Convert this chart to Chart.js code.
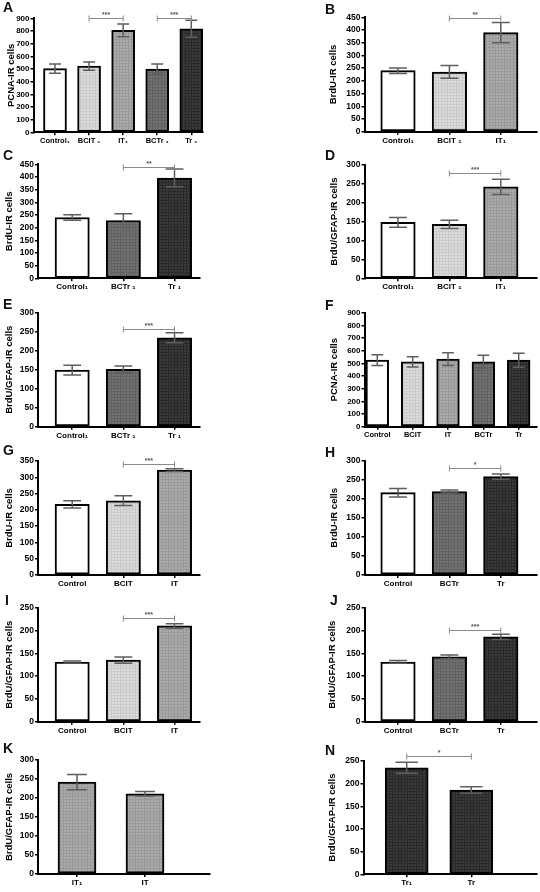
<!DOCTYPE html>
<html><head><meta charset="utf-8">
<script src="https://cdn.jsdelivr.net/npm/chart.js@4.4.0/dist/chart.umd.min.js"></script>
<style>
html,body{margin:0;padding:0;background:#fff;}
body{width:540px;height:892px;position:relative;overflow:hidden;font-family:"Liberation Sans",Arial,sans-serif;}
canvas{position:absolute;}
.letter{position:absolute;font:bold 14px "Liberation Sans",Arial,sans-serif;color:#111;line-height:14px;}
</style></head><body>
<script>
// ---------- DATA ----------
const catsA = ['Control₁','BCIT ₁','IT₁','BCTr ₁','Tr ₁'];
const valsA = [503, 522, 805, 500, 817];
const errsA = [37, 33, 50, 40, 67];
const sigA  = [{from:1,to:2,y:900,t:'***'},{from:3,to:4,y:900,t:'***'}];

const catsB = ['Control₁','BCIT ₁','IT₁'];
const valsB = [240, 235, 390];
const errsB = [11, 25, 40];
const sigB  = [{from:1,to:2,y:446,t:'**'}];

const catsC = ['Control₁','BCTr ₁','Tr ₁'];
const valsC = [240, 228, 396];
const errsC = [11, 27, 35];
const sigC  = [{from:1,to:2,y:441,t:'**'}];

const catsD = ['Control₁','BCIT ₁','IT₁'];
const valsD = [148, 143, 242];
const errsD = [13, 11, 20];
const sigD  = [{from:1,to:2,y:280,t:'***'}];

const catsE = ['Control₁','BCTr ₁','Tr ₁'];
const valsE = [149, 151, 234];
const errsE = [13, 9, 13];
const sigE  = [{from:1,to:2,y:257,t:'***'}];

const catsF = ['Control','BCIT','IT','BCTr','Tr'];
const valsF = [526, 512, 534, 513, 525];
const errsF = [42, 40, 50, 52, 55];
const sigF  = [];

const catsG = ['Control','BCIT','IT'];
const valsG = [217, 228, 322];
const errsG = [11, 15, 4];
const sigG  = [{from:1,to:2,y:340,t:'***'}];

const catsH = ['Control','BCTr','Tr'];
const valsH = [216, 219, 258];
const errsH = [11, 4, 7];
const sigH  = [{from:1,to:2,y:280,t:'*'}];

const catsI = ['Control','BCIT','IT'];
const valsI = [131, 135, 210];
const errsI = [2, 7, 5];
const sigI  = [{from:1,to:2,y:227,t:'***'}];

const catsJ = ['Control','BCTr','Tr'];
const valsJ = [131, 142, 186];
const errsJ = [3, 4, 6];
const sigJ  = [{from:1,to:2,y:202,t:'***'}];

const catsK = ['IT₁','IT'];
const valsK = [242, 211];
const errsK = [20, 6];
const sigK  = [];

const catsN = ['Tr₁','Tr'];
const valsN = [235, 186];
const errsN = [12, 7];
const sigN  = [{from:0,to:1,y:261,t:'*'}];

// ---------- LAYOUT / STYLE ----------
const SANS = '"Liberation Sans", Arial, sans-serif';
const NARROW = '"Liberation Sans Narrow", "Liberation Sans", Arial, sans-serif';
const PCNA = 'PCNA-IR cells', BRDU = 'BrdU-IR cells', GFAP = 'BrdU/GFAP-IR cells';

const L = {x:38, end:199.5, c1:72.2, cN:174.5, w:34.3};
const R = {x:364.5, end:537, c1:398, cN:500.8, w:34.5};

const panels = [
 {letter:'A', lp:[3,2],   cats:catsA, vals:valsA, errs:errsA, sig:sigA, yMax:900, step:100, title:PCNA, narrow:true,
  box:{axisX:33.5, xEnd:203, yTop:18.3, yZero:132.3, c1:55, cN:191.3, barW:23, titleX:12}},
 {letter:'B', lp:[325,4], cats:catsB, vals:valsB, errs:errsB, sig:sigB, yMax:450, step:50, title:BRDU,
  box:{axisX:R.x, xEnd:R.end, yTop:17.3, yZero:131.7, c1:R.c1, cN:R.cN, barW:R.w, titleX:334}},
 {letter:'C', lp:[3,150], cats:catsC, vals:valsC, errs:errsC, sig:sigC, yMax:450, step:50, title:BRDU,
  box:{axisX:L.x, xEnd:L.end, yTop:164.3, yZero:278.3, c1:L.c1, cN:L.cN, barW:L.w, titleX:10}},
 {letter:'D', lp:[325,150], cats:catsD, vals:valsD, errs:errsD, sig:sigD, yMax:300, step:50, title:GFAP,
  box:{axisX:R.x, xEnd:R.end, yTop:165, yZero:278.3, c1:R.c1, cN:R.cN, barW:R.w, titleX:335}},
 {letter:'E', lp:[3,299], cats:catsE, vals:valsE, errs:errsE, sig:sigE, yMax:300, step:50, title:GFAP,
  box:{axisX:L.x, xEnd:L.end, yTop:312.7, yZero:426.7, c1:L.c1, cN:L.cN, barW:L.w, titleX:9.5}},
 {letter:'F', lp:[325,300], cats:catsF, vals:valsF, errs:errsF, sig:sigF, yMax:900, step:100, title:PCNA, narrow:true,
  box:{axisX:R.x, xEnd:R.end, yTop:312.7, yZero:426.7, c1:377.3, cN:518.7, barW:22.7, titleX:335}},
 {letter:'G', lp:[3,445], cats:catsG, vals:valsG, errs:errsG, sig:sigG, yMax:350, step:50, title:BRDU,
  box:{axisX:L.x, xEnd:L.end, yTop:461, yZero:575, c1:L.c1, cN:L.cN, barW:L.w, titleX:9.5}},
 {letter:'H', lp:[325,447], cats:catsH, vals:valsH, errs:errsH, sig:sigH, yMax:300, step:50, title:BRDU,
  box:{axisX:R.x, xEnd:R.end, yTop:460.7, yZero:575, c1:R.c1, cN:R.cN, barW:R.w, titleX:335}},
 {letter:'I', lp:[5,595], cats:catsI, vals:valsI, errs:errsI, sig:sigI, yMax:250, step:50, title:GFAP,
  box:{axisX:L.x, xEnd:L.end, yTop:607.7, yZero:721.7, c1:L.c1, cN:L.cN, barW:L.w, titleX:9.5}},
 {letter:'J', lp:[330,595], cats:catsJ, vals:valsJ, errs:errsJ, sig:sigJ, yMax:250, step:50, title:GFAP,
  box:{axisX:R.x, xEnd:R.end, yTop:607.7, yZero:721.7, c1:R.c1, cN:R.cN, barW:R.w, titleX:333}},
 {letter:'K', lp:[3,743], cats:catsK, vals:valsK, errs:errsK, sig:sigK, yMax:300, step:50, title:GFAP,
  box:{axisX:L.x, xEnd:209.3, yTop:760, yZero:874, c1:77, cN:145, barW:38, titleX:9.5}},
 {letter:'N', lp:[325,745], cats:catsN, vals:valsN, errs:errsN, sig:sigN, yMax:250, step:50, title:GFAP,
  box:{axisX:363.5, xEnd:537, yTop:761, yZero:874.3, c1:406.7, cN:471.3, barW:43, titleX:333}}
];

function makeFill(base, line){
  const c = document.createElement('canvas'); c.width = 3; c.height = 3;
  const g = c.getContext('2d');
  g.fillStyle = `rgb(${base},${base},${base})`; g.fillRect(0,0,3,3);
  g.fillStyle = `rgb(${line},${line},${line})`; g.fillRect(0,2,3,1); g.fillRect(2,0,1,3);
  return g.createPattern(c,'repeat');
}
const FILLS = {
  Control: '#ffffff',
  BCIT: makeFill(220, 202),
  IT:   makeFill(171, 153),
  BCTr: makeFill(115, 97),
  Tr:   makeFill(58, 42)
};
const keyOf = c => c.replace(/[ ₁]/g,'');

const PT = 26, PB = 22, PR = 3;

function build(p){
  const b = p.box, n = p.cats.length;
  const left = Math.round(b.titleX - 5.7);
  const top = Math.round(b.yTop - PT);
  const W = Math.round(b.xEnd - left + PR);
  const H = Math.round(b.yZero - top + PB);
  const caLeft = b.axisX - left, caTop = b.yTop - top, caRight = b.xEnd - left, caBottom = b.yZero - top;
  const unit = (b.cN - b.c1) / (n - 1);
  const xMin = 1 - (b.c1 - b.axisX) / unit;
  const xMax = n + (b.xEnd - b.cN) / unit;

  const cv = document.createElement('canvas');
  cv.width = W; cv.height = H;
  cv.style.left = left + 'px'; cv.style.top = top + 'px';
  cv.style.width = W + 'px'; cv.style.height = H + 'px';
  document.body.appendChild(cv);

  const lt = document.createElement('div');
  lt.className = 'letter'; lt.textContent = p.letter;
  lt.style.left = p.lp[0] + 'px'; lt.style.top = (p.lp[1] - 2) + 'px';
  document.body.appendChild(lt);

  const fam = p.narrow ? NARROW : SANS;
  const overlay = {
    id: 'overlay' + p.letter,
    afterDatasetsDraw(chart){
      const ctx = chart.ctx, meta = chart.getDatasetMeta(0), ys = chart.scales.y;
      ctx.save();
      ctx.strokeStyle = '#5e5e5e'; ctx.lineWidth = 1.5;
      meta.data.forEach((bar, i) => {
        const x = bar.x, hw = b.barW * 0.26;
        const y1 = ys.getPixelForValue(p.vals[i] + p.errs[i]);
        const y2 = ys.getPixelForValue(p.vals[i] - p.errs[i]);
        ctx.beginPath();
        ctx.moveTo(x, y1); ctx.lineTo(x, y2);
        ctx.moveTo(x - hw, y1); ctx.lineTo(x + hw, y1);
        ctx.moveTo(x - hw, y2); ctx.lineTo(x + hw, y2);
        ctx.stroke();
      });
      ctx.strokeStyle = '#8a8a8a'; ctx.lineWidth = 1; ctx.fillStyle = '#555';
      ctx.font = 'bold 7px ' + SANS; ctx.textAlign = 'center'; ctx.textBaseline = 'bottom';
      p.sig.forEach(s => {
        const xa = meta.data[s.from].x, xb = meta.data[s.to].x;
        const y = Math.round(ys.getPixelForValue(s.y)) + 0.5;
        ctx.beginPath();
        ctx.moveTo(xa, y - 3); ctx.lineTo(xa, y + 3);
        ctx.moveTo(xb, y - 3); ctx.lineTo(xb, y + 3);
        ctx.moveTo(xa, y); ctx.lineTo(xb, y);
        ctx.stroke();
        ctx.fillText(s.t, (xa + xb) / 2, y + 0.5);
      });
      ctx.restore();
    }
  };

  new Chart(cv, {
    type: 'bar',
    data: {
      datasets: [{
        data: p.vals.map((v, i) => ({x: i + 1, y: v})),
        backgroundColor: p.cats.map(c => FILLS[keyOf(c)]),
        borderColor: '#000',
        borderWidth: 2,
        borderSkipped: false,
        barThickness: b.barW
      }]
    },
    options: {
      responsive: false,
      animation: false,
      devicePixelRatio: 1,
      layout: {autoPadding: false, padding: {top: caTop, right: W - caRight, left: 0, bottom: 0}},
      plugins: {legend: {display: false}, tooltip: {enabled: false}},
      scales: {
        x: {
          type: 'linear', min: xMin, max: xMax, offset: false,
          afterBuildTicks: s => { s.ticks = p.cats.map((c, i) => ({value: i + 1})); },
          afterFit: s => { s.height = H - caBottom; },
          ticks: {callback: (v, i) => p.cats[i] ?? '', color: '#000', padding: 1, maxRotation: 0, autoSkip: false,
                  font: {family: fam, size: p.narrow ? 7.5 : 8, weight: 'bold'}},
          grid: {display: true, offset: false, drawOnChartArea: false, tickLength: 3, color: '#000', lineWidth: 1.5},
          border: {display: true, color: '#000', width: 2}
        },
        y: {
          min: 0, max: p.yMax,
          afterFit: s => { s.width = caLeft; },
          ticks: {stepSize: p.step, autoSkip: false, color: '#000', padding: 1,
                  font: {family: fam, size: p.narrow ? 8 : 8.5, weight: 'bold'}},
          grid: {display: true, drawOnChartArea: false, tickLength: 3, color: '#000', lineWidth: 1.5},
          border: {display: true, color: '#000', width: 2},
          title: {display: true, text: p.title, color: '#000', padding: 0,
                  font: {family: SANS, size: 9.5, weight: 'bold'}}
        }
      }
    },
    plugins: [overlay]
  });
}

panels.forEach(build);
</script>
</body></html>
